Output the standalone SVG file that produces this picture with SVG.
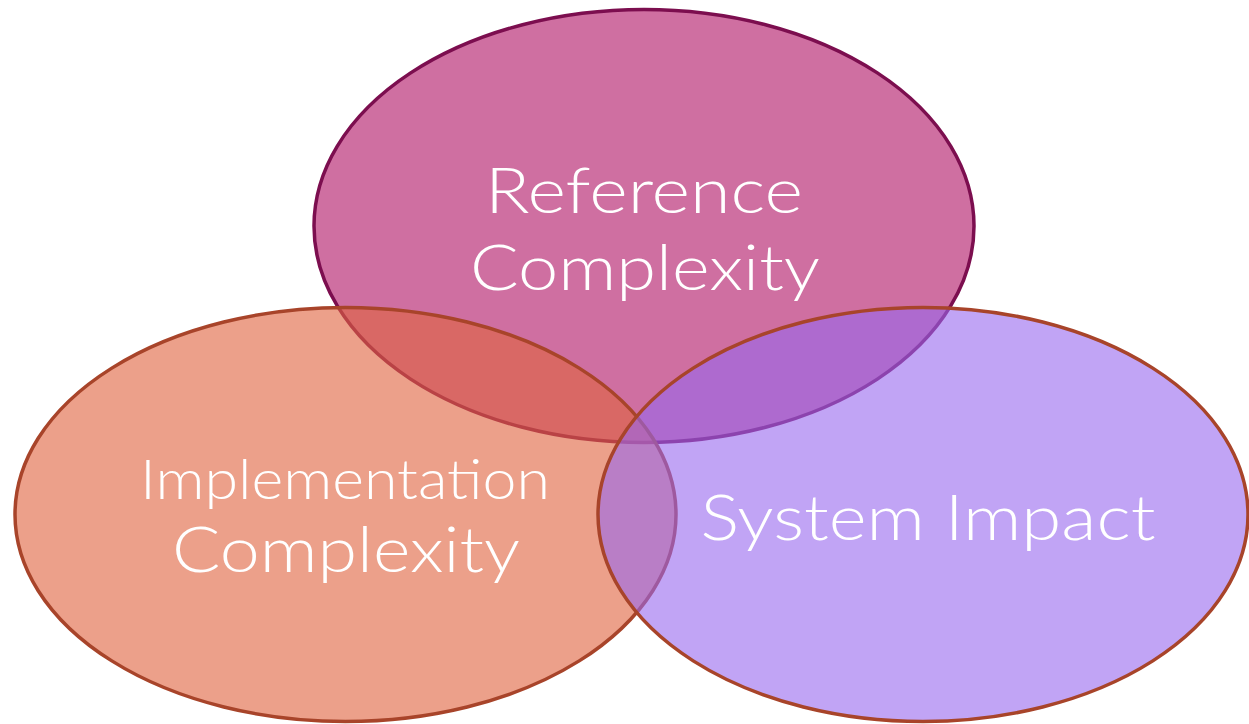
<svg xmlns="http://www.w3.org/2000/svg" width="1249" height="724" viewBox="0 0 1249 724">
<style>
.lbl{font-family:"Lato","Open Sans","Liberation Sans",sans-serif;font-weight:300;fill:#ffffff;text-anchor:middle}
.lo{stroke:#A8442A;stroke-width:3.5}
</style>
<rect width="1249" height="724" fill="#ffffff"/>
<g id="reference">
<ellipse cx="644" cy="226" rx="330" ry="216.5" fill="#CF6FA1" stroke="#7C0E4F" stroke-width="3.5"/>
<text class="lbl" x="644" y="213" font-size="64" textLength="318" lengthAdjust="spacingAndGlyphs">Reference</text>
<text class="lbl" x="645" y="290" font-size="64" textLength="350" lengthAdjust="spacingAndGlyphs">Complexity</text>
</g>
<g id="implementation">
<ellipse class="lo" cx="345.5" cy="514.5" rx="330.5" ry="207" fill="#E0633F" fill-opacity="0.61"/>
<text class="lbl" x="345" y="499" font-size="56" textLength="410" lengthAdjust="spacingAndGlyphs">Implementation</text>
<text class="lbl" x="346" y="572" font-size="64" textLength="348" lengthAdjust="spacingAndGlyphs">Complexity</text>
</g>
<g id="system">
<ellipse class="lo" cx="923" cy="514.5" rx="325" ry="207" fill="#9867EE" fill-opacity="0.6"/>
<text class="lbl" x="928" y="540" font-size="64" textLength="455" lengthAdjust="spacingAndGlyphs">System Impact</text>
</g>
<g id="connectors"/>
</svg>
